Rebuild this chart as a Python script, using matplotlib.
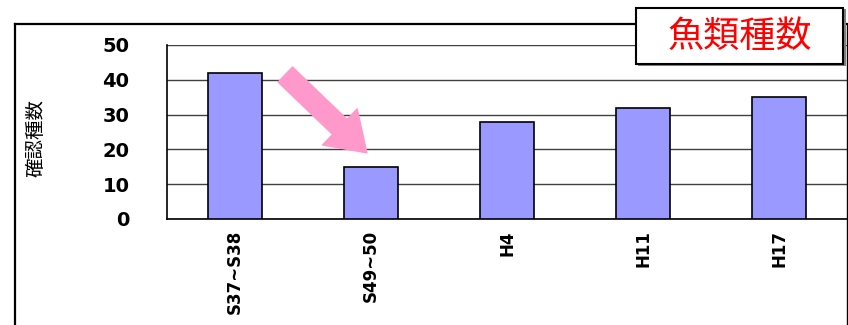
import matplotlib
matplotlib.use("Agg")
import matplotlib.pyplot as plt
from matplotlib.patches import Rectangle
from matplotlib.lines import Line2D

plt.rcParams['font.family'] = ['Noto Sans CJK JP', 'DejaVu Sans']

categories = ["S37~S38", "S49~50", "H4", "H11", "H17"]
species_counts = [42, 15, 28, 32, 35]
y_ticks = [0, 10, 20, 30, 40, 50]

fig = plt.figure(figsize=(8.48, 3.25), dpi=100)
fig.patch.set_facecolor("white")

# outer frame lines
fig.add_artist(Line2D([15/848, 15/848], [0, 1 - 24/325], transform=fig.transFigure,
                      color="black", lw=1.6))
fig.add_artist(Line2D([15/848, 1], [1 - 24/325, 1 - 24/325], transform=fig.transFigure,
                      color="black", lw=1.6))
fig.add_artist(Line2D([846.5/848, 846.5/848], [0, 1 - 24/325], transform=fig.transFigure,
                      color="black", lw=1.0))

ax = fig.add_axes([167/848, 1 - 219/325, 680/848, 174/325])
x = range(len(categories))
ax.bar(x, species_counts, width=0.4, color="#9999FF", edgecolor="black", linewidth=1.2, zorder=3)

ax.set_xlim(-0.5, len(categories) - 0.5)
ax.set_ylim(0, 50)
ax.set_yticks(y_ticks)
ax.set_yticklabels([str(v) for v in y_ticks], fontsize=14, fontweight="bold",
                   family=["DejaVu Sans"])
ax.yaxis.grid(True, color="#404040", linewidth=1.0, zorder=0)
ax.tick_params(axis="y", length=0, pad=27)
ax.set_xticks(list(x))
ax.set_xticklabels(categories, rotation=90, fontsize=12, fontweight="bold",
                   family=["DejaVu Sans"], va="top")
ax.tick_params(axis="x", length=0, pad=8)
for side in ["top", "right"]:
    ax.spines[side].set_visible(False)
ax.spines["left"].set_linewidth(1.2)
ax.spines["bottom"].set_linewidth(1.2)

fig.text(36/848, 1 - 138/325, "確認種数", rotation=90, fontsize=14,
         ha="center", va="center")

# pink arrow pointing at the second bar
ax.annotate("", xy=(0.97, 19), xytext=(0.37, 41.5),
            arrowprops=dict(arrowstyle="simple,head_length=1.8,head_width=2.4,tail_width=1.0",
                            mutation_scale=15, color="#FF99CC", shrinkA=0, shrinkB=0),
            zorder=5)

# title box
fig.add_artist(Rectangle((638/848, 1 - 66/325), 208/848, 57/325, transform=fig.transFigure,
                         facecolor="#808080", edgecolor="none", zorder=9))
fig.add_artist(Rectangle((636/848, 1 - 64/325), 207/848, 56/325, transform=fig.transFigure,
                         facecolor="white", edgecolor="black", linewidth=1.5, zorder=10))
fig.text(740/848, 1 - 37/325, "魚類種数", color="red", fontsize=26,
         ha="center", va="center", zorder=11)

fig.savefig("out.png", dpi=100, facecolor="white")
